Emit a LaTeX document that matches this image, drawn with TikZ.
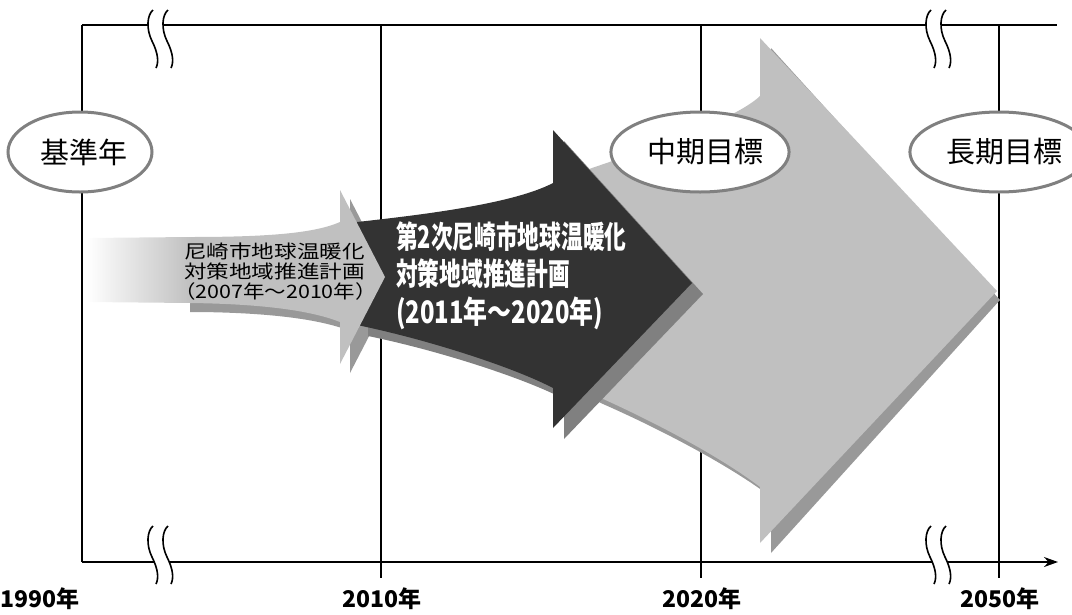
\documentclass[tikz,border=0pt]{standalone}
\usepackage{fontspec}
\usetikzlibrary{shapes.geometric,arrows.meta}
\newfontfamily\jp{Noto Sans CJK JP}
\definecolor{lg}{HTML}{C0C0C0}
\definecolor{lgs}{HTML}{999999}
\definecolor{dk}{HTML}{333333}
\definecolor{dks}{HTML}{808080}
\definecolor{ring}{HTML}{808080}
\tikzset{
  gridline/.style={line width=1.5pt, black},
  wave/.style={line width=1.6pt, black},
  goal/.style={ellipse, draw=ring, line width=3pt, fill=white, minimum width=144pt, minimum height=80pt, inner sep=0pt, font=\jp\fontsize{29}{29}\selectfont},
  yr/.style={font=\jp\bfseries\fontsize{23}{23}\selectfont, inner sep=0pt},
  dktxt/.style={anchor=west, text=white, inner sep=0pt, font=\jp\bfseries\fontsize{31}{31}\selectfont, text height=27pt, text depth=4pt},
  smtxt/.style={anchor=west, text=black, inner sep=0pt, font=\jp\fontsize{18.5}{18.5}\selectfont, text height=16pt, text depth=2.5pt},
  breakmark/.pic={
    \fill[white] (5,0) .. controls (-1,5) and (-2,19) .. (4,31) .. controls (10,43) and (11,52) .. (8,58)
      -- (23,58) .. controls (26,52) and (25,43) .. (19,31) .. controls (13,19) and (14,5) .. (20,0) -- cycle;
    \draw[wave] (5,0) .. controls (-1,5) and (-2,19) .. (4,31) .. controls (10,43) and (11,52) .. (8,58);
    \draw[wave] (20,0) .. controls (14,5) and (13,19) .. (19,31) .. controls (25,43) and (26,52) .. (23,58);
  }
}
\begin{document}
\begin{tikzpicture}[x=1pt,y=-1pt]
\useasboundingbox (0,0) rectangle (1072,614);
% frame coordinates
\coordinate (tl) at (82,25);
\coordinate (tr) at (1057,25);
\coordinate (bl) at (82,562);
\coordinate (br) at (1058,562);
\coordinate (v1t) at (381,25);  \coordinate (v1b) at (381,578);
\coordinate (v2t) at (701,25);  \coordinate (v2b) at (701,578);
\coordinate (v3t) at (999,25);  \coordinate (v3b) at (999,578);
% grid
\draw[gridline] (tl) -- (tr);
\draw[gridline] (tl) -- (bl);
\draw[gridline] (v1t) -- (v1b);
\draw[gridline] (v2t) -- (v2b);
\draw[gridline] (v3t) -- (v3b);
\draw[gridline, -{Stealth[length=14pt,width=10pt]}] (bl) -- (br);
% breaks
\pic at (148,10) {breakmark};
\pic at (148,526) {breakmark};
\pic at (926,10) {breakmark};
\pic at (926,526) {breakmark};
% year labels
\node[yr] (y1990) at (40,599) {1990年};
\node[yr] (y2010) at (382,599) {2010年};
\node[yr] (y2020) at (702,599) {2020年};
\node[yr] (y2050) at (1000,599) {2050年};
% big arrow shadow and body
\fill[lgs] (576,188) -- (603,178) .. controls (661,158) and (746,130) .. (771,106) -- (771,48) -- (1000,300) -- (771,553) -- (771,497) .. controls (736,470) and (671,434) .. (603,404) -- (576,391) -- cycle;
\fill[lg] (565,178) -- (592,168) .. controls (650,148) and (735,120) .. (760,96) -- (760,38) -- (997,291) -- (760,543) -- (760,487) .. controls (725,460) and (660,424) .. (592,394) -- (565,381) -- cycle;
% small arrow shadow
\begin{scope}[shift={(10,9)}]
\fill[lgs] (180,237) -- (190,237) .. controls (270,237) and (315,233) .. (340,222) -- (340,190) -- (385,277) -- (340,364) -- (340,322) .. controls (315,312) and (270,304) .. (190,303) -- (180,303) -- cycle;
\end{scope}
% dark arrow shadow and body
\begin{scope}[shift={(11,11)}]
\fill[dks] (357,222) .. controls (430,214) and (515,203) .. (553,183) -- (553,130) -- (692,283) -- (553,428) -- (553,388) .. controls (515,368) and (430,340) .. (357,325) -- cycle;
\end{scope}
\fill[dk] (357,222) .. controls (430,214) and (515,203) .. (553,183) -- (553,130) -- (692,283) -- (553,428) -- (553,388) .. controls (515,368) and (430,340) .. (357,325) -- cycle;
% small arrow body
\fill[lg] (190,237) .. controls (270,237) and (315,233) .. (340,222) -- (340,190) -- (385,277) -- (340,364) -- (340,322) .. controls (315,312) and (270,304) .. (190,303) -- cycle;
\shade[left color=white, right color=lg] (87,238) -- (191,237) -- (191,303) -- (87,302) -- cycle;
% goals
\node[goal] (base) at (80,152) {\hspace*{8pt}基準年};
\node[goal] (mid) at (700,152) {\hspace*{10pt}中期目標};
\node[goal] (long) at (999,152) {\hspace*{10pt}長期目標};
% texts
\node[smtxt] (s1) at (184,252) {\scalebox{1.22}[1]{尼崎市地球温暖化}};
\node[smtxt] (s2) at (184,272) {\scalebox{1.22}[1]{対策地域推進計画}};
\node[smtxt] (s3) at (174,292) {\scalebox{1.16}[1]{（2007年～2010年）}};
\node[dktxt] (d1) at (396,237) {\scalebox{0.7}[1]{第2次尼崎市地球温暖化}};
\node[dktxt] (d2) at (396,274) {\scalebox{0.7}[1]{対策地域推進計画}};
\node[dktxt] (d3) at (396,312) {\scalebox{0.77}[1]{(2011年～2020年)}};
\end{tikzpicture}
\end{document}
